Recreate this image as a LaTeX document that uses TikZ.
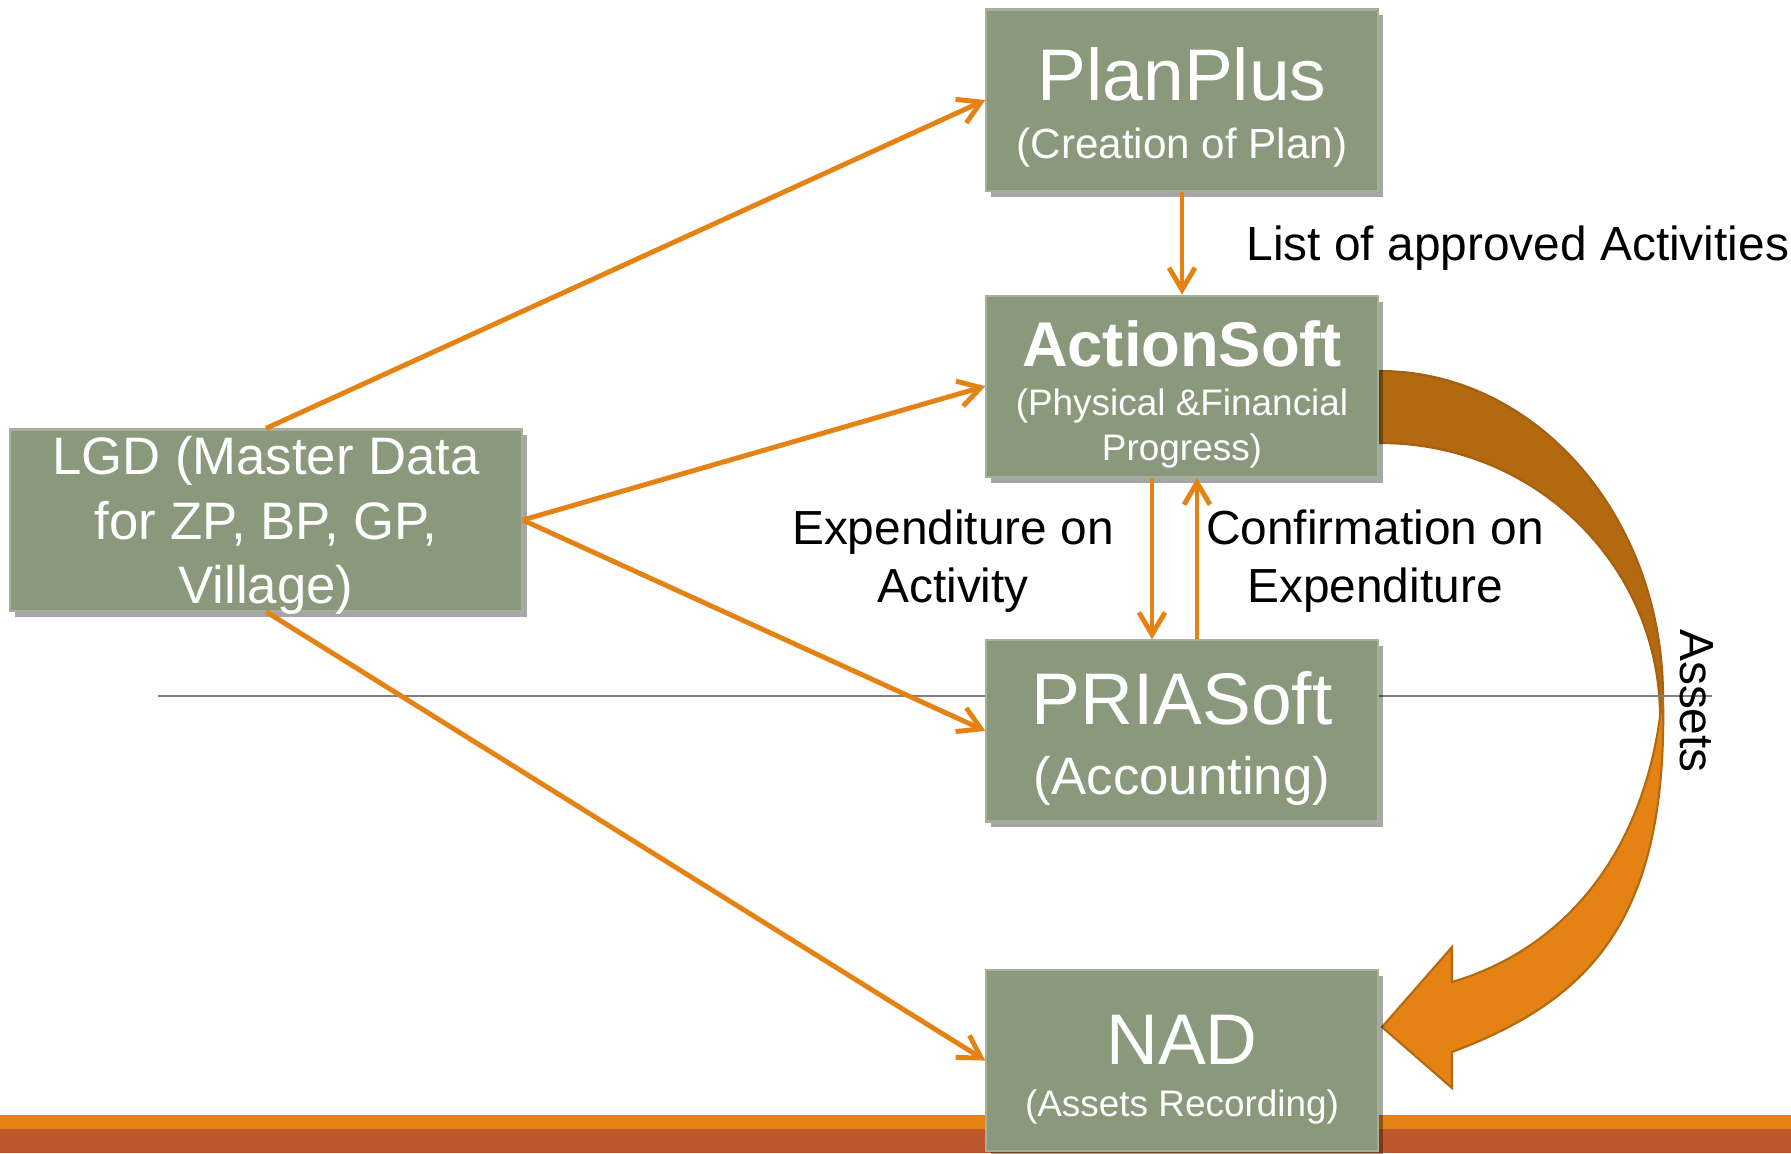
\documentclass[tikz,border=0pt]{standalone}
\usepackage{fontspec}
\setmainfont{Liberation Sans}
\usetikzlibrary{positioning, arrows.meta, shadows}

\definecolor{boxgreen}{RGB}{138,152,123}
\definecolor{boxedge}{RGB}{166,174,156}
\definecolor{floworange}{RGB}{228,130,19}
\definecolor{assetdark}{RGB}{179,105,15}
\definecolor{assetedge}{RGB}{166,96,14}
\definecolor{barred}{RGB}{190,88,44}
\definecolor{rulegray}{RGB}{128,128,128}

\begin{document}
\begin{tikzpicture}
    [
        x=0.01cm, y=-0.01cm, node distance=30mm, on grid,
        soft_box/.style={rectangle, draw=boxedge, line width=0.6pt, fill=boxgreen, text=white, align=center, inner sep=0pt, minimum width=39.1mm, minimum height=18.1mm, drop shadow={shadow xshift=0.5mm, shadow yshift=-0.6mm, opacity=0.35, fill=black}},
        flow_arrow/.style={draw=floworange, line width=1.4pt, -{Straight Barb[length=2.2mm, width=2.6mm]}},
        flow_label/.style={align=center, inner sep=0pt, font=\fontsize{13.6}{16.5}\selectfont},
    ]
        \useasboundingbox (0,0) rectangle (1791,1153);
        % bottom bars
        \fill[floworange] (0,1115) rectangle (1791,1129);
        \fill[barred] (0,1129) rectangle (1791,1153);
        % assets arrow
        \filldraw[fill=assetdark, draw=assetedge, line width=0.6pt] (1380,371) .. controls (1536,371) and (1663,517) .. (1663,697) -- (1660,717) .. controls (1660,566) and (1536,443) .. (1380,443) -- cycle;
        \filldraw[fill=floworange, draw=assetdark, line width=0.6pt] (1663,697) .. controls (1668,920) and (1590,1000) .. (1452,1052) -- (1452,1088) -- (1382,1027) -- (1452,947) -- (1452,982) .. controls (1560,950) and (1640,860) .. (1660,717) -- cycle;
        \draw[rulegray, line width=0.6pt] (158,696) -- (1712,696);
        % systems
        \node[soft_box, font=\fontsize{12}{16.5}\selectfont] (plan) at (1182,100) {{\fontsize{20.8}{20.8}\selectfont\rule{0pt}{19.5pt}PlanPlus}\\(Creation of Plan)};
        \node[soft_box, font=\fontsize{10.5}{12.8}\selectfont] (action) [below = 28.6mm of plan] {{\fontsize{18}{18}\selectfont\bfseries\rule{0pt}{17.7pt}ActionSoft}\\[1.4pt](Physical \&Financial\\Progress)};
        \node[soft_box, font=\fontsize{15}{20}\selectfont] (pria) [below = 34.45mm of action] {{\fontsize{20.8}{20.8}\selectfont\rule{0pt}{19.5pt}PRIASoft}\\(Accounting)};
        \node[soft_box, font=\fontsize{10.5}{15}\selectfont] (nad) [below = 32.95mm of pria] {{\fontsize{20.4}{20.4}\selectfont\rule{0pt}{19.2pt}NAD}\\(Assets Recording)};
        \node[soft_box, minimum width=51.1mm, text depth=0pt, font=\fontsize{15}{18.3}\selectfont] (lgd) at (266,520) {LGD (Master Data\\for ZP, BP, GP,\\Village)};
        % flows
        \draw[flow_arrow] (lgd.north) -- (plan.west);
        \draw[flow_arrow] (lgd.east) -- (action.west);
        \draw[flow_arrow] (lgd.east) -- (pria.west);
        \draw[flow_arrow] (lgd.south) -- (nad.west);
        \draw[flow_arrow] (plan.south) -- (action.north);
        \draw[flow_arrow] ([xshift=-3mm]action.south) -- ([xshift=-3mm]pria.north);
        \draw[flow_arrow] ([xshift=1.5mm]pria.north) -- ([xshift=1.5mm]action.south);
        % labels
        \node[flow_label, anchor=west] (approved) at (1246,248) {List of approved Activities};
        \node[flow_label] (spend) at (953,561) {Expenditure on\\Activity};
        \node[flow_label] (confirm) at (1375,561) {Confirmation on\\Expenditure};
        \node[flow_label, rotate=-90] (assets) at (1697,701) {Assets};
    \end{tikzpicture}
\end{document}
